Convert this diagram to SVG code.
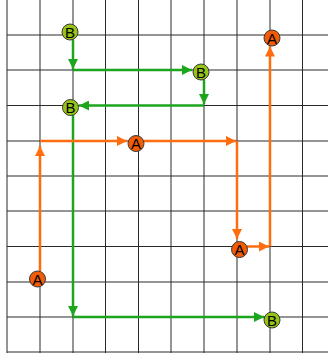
<svg xmlns="http://www.w3.org/2000/svg" width="328" height="354" viewBox="0 0 328 354">
<style>
.grid line{stroke:#2a2a2a;stroke-width:1}
.or{stroke:#ff6d10;stroke-width:2.5;fill:none}
.gr{stroke:#1ea51e;stroke-width:2.5;fill:none}
.na circle{fill:#f25c05;stroke:#3a3a3a;stroke-width:1}
.nb circle{fill:#95c417;stroke:#3a3a3a;stroke-width:1}
text{font-family:"Liberation Sans",Arial,sans-serif;font-size:15px;fill:#000;text-anchor:middle}
</style>
<defs>
<marker id="ao" viewBox="0 0 10 10" refX="10" refY="5" markerWidth="10" markerHeight="10" markerUnits="userSpaceOnUse" orient="auto"><path d="M0,0 L10,5 L0,10 Z" fill="#ff6d10"/></marker>
<marker id="ag" viewBox="0 0 10 10" refX="10" refY="5" markerWidth="10" markerHeight="10" markerUnits="userSpaceOnUse" orient="auto"><path d="M0,0 L10,5 L0,10 Z" fill="#1ea51e"/></marker>
</defs>
<rect width="328" height="354" fill="#fff"/>
<g class="grid">
<line x1="7" y1="0" x2="7" y2="353"/>
<line x1="40" y1="0" x2="40" y2="353"/>
<line x1="73" y1="0" x2="73" y2="353"/>
<line x1="105.5" y1="0" x2="105.5" y2="353"/>
<line x1="138.5" y1="0" x2="138.5" y2="353"/>
<line x1="171" y1="0" x2="171" y2="353"/>
<line x1="204" y1="0" x2="204" y2="353"/>
<line x1="237" y1="0" x2="237" y2="353"/>
<line x1="270" y1="0" x2="270" y2="353"/>
<line x1="302.5" y1="0" x2="302.5" y2="353"/>
<line x1="7" y1="35" x2="328" y2="35"/>
<line x1="7" y1="70" x2="328" y2="70"/>
<line x1="7" y1="105.5" x2="328" y2="105.5"/>
<line x1="7" y1="141" x2="328" y2="141"/>
<line x1="7" y1="176" x2="328" y2="176"/>
<line x1="7" y1="211" x2="328" y2="211"/>
<line x1="7" y1="246.5" x2="328" y2="246.5"/>
<line x1="7" y1="282" x2="328" y2="282"/>
<line x1="7" y1="317" x2="328" y2="317"/>
<line x1="7" y1="352" x2="328" y2="352"/>
</g>
<g id="connectors">
<path class="gr" d="M73,40 V69" marker-end="url(#ag)"/>
<path class="gr" d="M73,70 H192" marker-end="url(#ag)"/>
<path class="gr" d="M204,80 V104" marker-end="url(#ag)"/>
<path class="gr" d="M204,105.5 H79" marker-end="url(#ag)"/>
<path class="gr" d="M73,115 V316" marker-end="url(#ag)"/>
<path class="gr" d="M73,317 H264" marker-end="url(#ag)"/>
<path class="or" d="M40,271 V146" marker-end="url(#ao)"/>
<path class="or" d="M40,141 H127" marker-end="url(#ao)"/>
<path class="or" d="M144,141 H236" marker-end="url(#ao)"/>
<path class="or" d="M237,141 V239" marker-end="url(#ao)"/>
<path class="or" d="M247,246.5 H269" marker-end="url(#ao)"/>
<path class="or" d="M270,246.5 V46.5" marker-end="url(#ao)"/>
</g>
<g id="B1" class="nb"><circle cx="70" cy="32" r="8"/><text x="70" y="37.5">B</text></g>
<g id="B2" class="nb"><circle cx="70.5" cy="107.5" r="8"/><text x="70.5" y="113">B</text></g>
<g id="B3" class="nb"><circle cx="201" cy="72" r="8"/><text x="201" y="77.5">B</text></g>
<g id="B4" class="nb"><circle cx="272" cy="320" r="8"/><text x="272" y="325.5">B</text></g>
<g id="A1" class="na"><circle cx="37.5" cy="279" r="8"/><text x="37.5" y="284.5">A</text></g>
<g id="A2" class="na"><circle cx="136" cy="143.5" r="8"/><text x="136" y="149">A</text></g>
<g id="A3" class="na"><circle cx="239.5" cy="249.5" r="8"/><text x="239.5" y="255">A</text></g>
<g id="A4" class="na"><circle cx="272" cy="38" r="8"/><text x="272" y="43.5">A</text></g>
</svg>
